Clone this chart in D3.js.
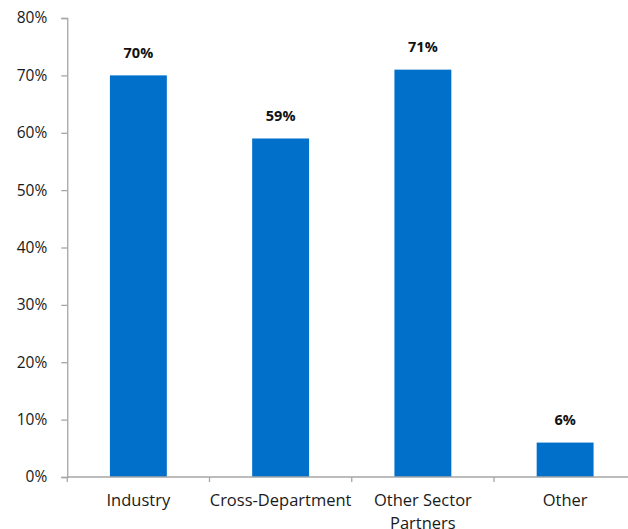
<!DOCTYPE html>
<html>
<head>
<meta charset="utf-8">
<script src="https://cdn.jsdelivr.net/npm/d3@7"></script>
<style>
  html, body { margin: 0; padding: 0; background: #fff; }
  svg { display: block; font-family: "Open Sans", sans-serif; }
</style>
</head>
<body>
<svg id="chart" width="628" height="529"></svg>
<script>
// Share of respondents by partner type
const categories = ["Industry", "Cross-Department", "Other Sector Partners", "Other"];
const categoryLines = [["Industry"], ["Cross-Department"], ["Other Sector", "Partners"], ["Other"]];
const values = [70, 59, 71, 6];
const yTicks = [0, 10, 20, 30, 40, 50, 60, 70, 80];

const svg = d3.select("#chart");
const plotLeft = 67.25, plotBottom = 477, plotTop = 18;
const step = 142.25;

const x = d3.scaleBand()
  .domain(categories)
  .range([plotLeft, plotLeft + step * categories.length])
  .paddingInner(0.6)
  .paddingOuter(0.3);

const y = d3.scaleLinear().domain([0, 80]).range([plotBottom, plotTop]);

const axisColor = "#a6a6a6";
const textColor = "#1a1a1a";

// y axis
const yAxis = svg.append("g")
  .attr("transform", `translate(${plotLeft},0)`)
  .call(d3.axisLeft(y).tickValues(yTicks).tickFormat(d => d + "%").tickSize(6).tickPadding(14));
yAxis.select(".domain").attr("stroke", axisColor).attr("stroke-width", 1.3);
yAxis.selectAll(".tick line").attr("stroke", axisColor).attr("stroke-width", 1.3);
yAxis.selectAll(".tick text")
  .attr("fill", textColor)
  .style("font-size", "15.5px")
  .style("font-family", "'Open Sans', sans-serif");

// bars
svg.append("g").selectAll("rect")
  .data(values)
  .join("rect")
  .attr("x", (d, i) => x(categories[i]))
  .attr("width", x.bandwidth())
  .attr("y", d => y(d))
  .attr("height", d => y(0) - y(d))
  .attr("fill", "#0070CA");

// x axis with boundary ticks between categories
const xg = svg.append("g");
xg.append("line")
  .attr("x1", plotLeft).attr("x2", plotLeft + step * categories.length)
  .attr("y1", plotBottom).attr("y2", plotBottom)
  .attr("stroke", axisColor).attr("stroke-width", 1.3);
xg.selectAll("line.tick")
  .data(d3.range(categories.length + 1))
  .join("line")
  .attr("class", "tick")
  .attr("x1", i => plotLeft + step * i).attr("x2", i => plotLeft + step * i)
  .attr("y1", plotBottom).attr("y2", plotBottom + 5)
  .attr("stroke", axisColor).attr("stroke-width", 1.3);

// category labels
const labels = svg.append("g").selectAll("text")
  .data(categories)
  .join("text")
  .attr("x", d => x(d) + x.bandwidth() / 2)
  .attr("y", 506)
  .attr("text-anchor", "middle")
  .attr("fill", textColor)
  .style("font-size", "16.5px");
labels.each(function(d, i) {
  d3.select(this).selectAll("tspan")
    .data(categoryLines[i])
    .join("tspan")
    .attr("x", x(d) + x.bandwidth() / 2)
    .attr("dy", (t, j) => j === 0 ? 0 : 22.5)
    .text(t => t);
});

// value labels
svg.append("g").selectAll("text")
  .data(values)
  .join("text")
  .attr("x", (d, i) => x(categories[i]) + x.bandwidth() / 2)
  .attr("y", d => y(d) - 17.5)
  .attr("text-anchor", "middle")
  .attr("fill", "#111")
  .style("font-size", "14.5px")
  .style("font-weight", "700")
  .text(d => d + "%");
</script>
</body>
</html>
